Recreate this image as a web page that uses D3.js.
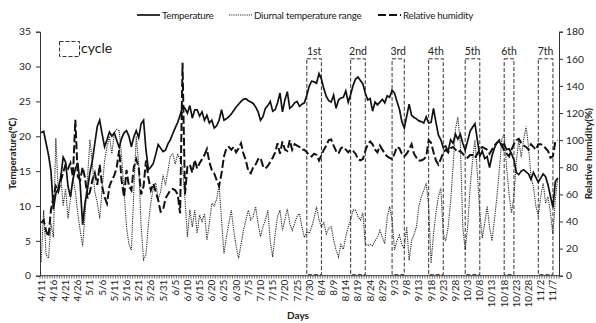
<!DOCTYPE html>
<html>
<head>
<meta charset="utf-8">
<script src="https://cdn.jsdelivr.net/npm/d3@7"></script>
<style>
  body { margin: 0; background: #fff; }
  text { font-family: Lato, "Noto Sans", sans-serif; fill: #222; }
</style>
</head>
<body>
<div id="chart"></div>
<script>
// Données : une valeur par jour, du 4/11 au 11/9
const temperature = [
  20.5, 20.7, 19.0, 17.3, 15.0, 9.5, 11.8, 12.5, 14.0, 17.0,
  16.3, 12.8, 11.3, 13.8, 15.3, 16.2, 13.0, 7.3, 10.5, 12.5,
  14.8, 16.5, 19.0, 21.4, 22.3, 20.3, 18.5, 19.5, 20.6, 20.0,
  20.5, 19.4, 18.4, 19.7, 20.5, 20.8, 20.0, 18.5, 19.9, 20.8,
  19.8, 21.8, 22.3, 18.0, 15.2, 15.6, 16.1, 17.4, 18.8, 18.3,
  17.8, 18.0, 18.9, 19.5, 20.4, 21.2, 22.0, 23.0, 24.3, 24.0,
  23.3, 24.4, 22.6, 23.8, 23.8, 22.9, 23.5, 22.3, 23.0, 21.9,
  22.3, 21.2, 21.5, 22.3, 23.8, 22.3, 22.5, 22.8, 23.2, 23.7,
  24.2, 24.6, 25.0, 25.3, 25.4, 25.1, 24.9, 24.7, 24.2, 23.5,
  22.3, 22.8, 24.0, 24.4, 25.0, 23.6, 23.8, 24.8, 26.2, 23.5,
  25.2, 26.4, 24.0, 24.3, 24.8, 25.0, 24.3, 24.6, 24.8, 25.9,
  27.2, 27.9, 27.8, 27.6, 29.0, 28.2, 26.8, 25.7, 25.1, 24.9,
  25.9, 24.0, 25.2, 25.5, 25.6, 26.5, 24.9, 26.0, 27.3, 28.2,
  28.5, 28.0, 27.5, 26.2, 25.2, 25.4, 23.6, 24.9, 24.5, 24.9,
  25.3, 24.8, 25.8, 25.6, 26.6, 26.2, 25.0, 23.9, 22.1, 21.2,
  22.9, 24.6, 23.0, 22.7, 22.5, 22.2, 22.1, 21.9, 22.8, 21.9,
  22.0, 24.0, 22.0, 20.2, 19.5, 18.4, 18.6, 17.8, 19.5, 19.0,
  20.3, 19.6, 20.3, 19.0, 18.0, 19.3, 20.7, 21.3, 21.8, 19.5,
  17.1, 17.9, 16.8, 17.1, 15.5, 17.2, 18.3, 19.1, 19.3, 18.6,
  18.9, 18.1, 18.2, 17.5, 16.6, 14.8, 14.5, 15.0, 15.2, 14.9,
  14.6, 13.8, 14.8, 14.1, 13.4, 14.0, 14.6, 14.2, 13.0, 11.4,
  9.8, 13.5, 14.0
];

const diurnalRange = [
  2.0, 9.4, 3.0, 2.5, 7.5, 5.5, 19.7, 12.0, 14.5, 10.0,
  12.5, 8.2, 11.0, 14.0, 12.0, 9.0, 6.5, 4.2, 9.0, 14.0,
  19.5, 16.0, 12.0, 10.5, 8.2, 12.5, 16.5, 18.5, 20.0, 17.5,
  20.5, 21.0, 20.8, 17.0, 12.0, 7.0, 4.5, 3.7, 12.0, 20.0,
  16.0, 7.0, 2.3, 3.0, 7.5, 10.5, 12.5, 13.3, 11.0, 12.0,
  14.5, 13.0, 15.0, 17.2, 17.5, 16.0, 17.5, 16.5, 15.5, 11.0,
  5.6, 9.5, 7.0, 9.4, 6.1, 8.7, 7.8, 8.9, 5.1, 7.5,
  10.4, 10.0, 11.0, 13.0, 8.0, 3.2, 5.5, 7.5, 9.4, 6.5,
  4.2, 2.5, 4.5, 6.5, 8.0, 9.4, 8.0, 8.5, 9.9, 7.5,
  5.6, 7.0, 8.0, 9.4, 5.0, 2.7, 6.0, 8.5, 9.4, 6.5,
  8.0, 9.6, 7.5, 6.5, 7.5, 8.5, 8.9, 7.0, 5.5, 6.3,
  6.1, 7.0, 8.3, 9.9, 8.0, 7.0, 7.6, 6.0, 6.8, 7.0,
  5.1, 3.7, 2.7, 4.5, 3.8, 5.6, 7.0, 8.0, 9.4, 9.4,
  8.5, 8.0, 9.0, 4.7, 4.3, 4.5, 4.3, 5.0, 5.5, 6.5,
  5.5, 4.6, 8.4, 9.9, 8.0, 3.7, 5.0, 5.8, 4.5, 3.9,
  7.0, 2.2, 5.0, 5.9, 7.0, 10.0, 11.3, 12.2, 13.3, 10.0,
  1.8, 6.0, 9.0, 11.3, 12.6, 6.0, 5.0, 7.0, 10.5, 15.5,
  21.0, 22.8, 19.0, 7.0, 3.7, 7.0, 12.5, 16.5, 19.5, 14.6,
  9.0, 5.4, 7.5, 10.0, 7.0, 5.0, 8.0, 11.3, 15.1, 19.5,
  20.3, 15.6, 11.7, 9.0, 11.3, 16.5, 19.5, 17.0, 19.5, 21.4,
  18.5, 14.2, 12.8, 10.0, 8.6, 11.3, 13.3, 10.4, 11.3, 9.0,
  6.0, 11.0, 14.0
];

const humidity = [
  39, 41, 33, 28.8, 48.5, 58, 66, 62, 70, 76,
  82, 79, 83, 73, 115, 73, 70.6, 80, 72, 57,
  62, 70.6, 75.7, 67, 82, 66, 58, 53.4, 66, 70.6,
  74, 80, 92.7, 70, 58, 78, 66, 63, 80, 86,
  80, 60, 66, 85, 72, 63, 68, 62, 55.8, 47.2,
  48.5, 57, 60, 63.2, 64, 63, 60, 46, 157, 60,
  80.4, 82, 76, 85.4, 79, 83, 86, 89, 93.4, 84,
  78, 75.5, 70.6, 66, 75.5, 88, 94, 95, 93, 95,
  91, 94, 97.7, 90, 85, 77, 75.5, 80, 82, 86,
  87, 81, 79, 81, 84, 87, 91, 97.7, 90, 99,
  93, 92, 100, 93, 97, 96, 95, 93, 93, 91,
  89, 88, 90, 89, 85, 89, 93, 96, 100, 100.5,
  96, 92, 90, 94, 95, 93, 91, 93, 92, 90,
  86, 85, 86, 92, 97, 99, 97, 93, 91, 96,
  93, 90, 88, 87, 86, 90, 95, 94, 90, 88,
  90, 93, 97, 90, 87, 85, 85, 86, 88, 100,
  98, 91, 85, 82, 86, 91, 93, 91, 94, 95,
  93, 91, 92, 90, 88, 87, 89, 89, 87, 90,
  93, 95, 94, 93, 90, 93, 96, 98, 100, 97,
  92, 90, 88, 93, 97, 100, 101, 98, 96, 95,
  93, 97, 95, 93, 97, 97, 96, 94, 92, 87,
  88, 99, 100
];

const tickLabels = ["4/11", "4/16", "4/21", "4/26", "5/1", "5/6", "5/11", "5/16", "5/21", "5/26",
  "5/31", "6/5", "6/10", "6/15", "6/20", "6/25", "6/30", "7/5", "7/10", "7/15", "7/20", "7/25",
  "7/30", "8/4", "8/9", "8/14", "8/19", "8/24", "8/29", "9/3", "9/8", "9/13", "9/18", "9/23",
  "9/28", "10/3", "10/8", "10/13", "10/18", "10/23", "10/28", "11/2", "11/7"];

const tempTicks = [0, 5, 10, 15, 20, 25, 30, 35];
const humTicks = [0, 20, 40, 60, 80, 100, 120, 140, 160, 180];

// Cycles (boîtes pointillées), bornes en jours
const cycleLabels = ["1st", "2nd", "3rd", "4th", "5th", "6th", "7th"];
const cycleStart = ["7/29", "8/16", "9/2", "9/17", "10/2", "10/18", "11/1"];
const cycleEnd = ["8/4", "8/22", "9/7", "9/23", "10/8", "10/22", "11/7"];
const cycleTop = 160;

const width = 596, height = 323;
const mLeft = 40, mRight = 559, mTop = 31.7, mBottom = 275.7;

const fmt = d3.timeFormat("%-m/%-d");
const days = d3.timeDay.range(new Date(2015, 3, 11), new Date(2015, 10, 10)).map(fmt);

const svg = d3.select("#chart").append("svg")
  .attr("width", width)
  .attr("height", height);

const x = d3.scaleBand().domain(days).range([mLeft, mRight]).padding(0);
const xc = d => x(d) + x.bandwidth() / 2;
const yT = d3.scaleLinear().domain([0, 35]).range([mBottom, mTop]);
const yH = d3.scaleLinear().domain([0, 180]).range([mBottom, mTop]);

// Axe gauche
const axL = svg.append("g").attr("transform", `translate(${mLeft},0)`)
  .call(d3.axisLeft(yT).tickValues(tempTicks).tickSize(4).tickPadding(5));
// Axe droit
const axR = svg.append("g").attr("transform", `translate(${mRight},0)`)
  .call(d3.axisRight(yH).tickValues(humTicks).tickSize(4).tickPadding(3));
[axL, axR].forEach(g => {
  g.select(".domain").attr("stroke", "#333");
  g.selectAll(".tick line").attr("stroke", "#333");
  g.selectAll(".tick text").attr("font-size", 10.3).attr("fill", "#333");
});

// Axe des x : un tiret par jour, une étiquette tous les 5 jours
const axB = svg.append("g");
axB.append("line")
  .attr("x1", mLeft).attr("x2", mRight)
  .attr("y1", mBottom).attr("y2", mBottom)
  .attr("stroke", "#333");
axB.selectAll(".dtick")
  .data(days.concat(["end"]))
  .enter()
  .append("line")
  .attr("x1", d => d === "end" ? mRight : x(d))
  .attr("x2", d => d === "end" ? mRight : x(d))
  .attr("y1", mBottom).attr("y2", mBottom + 3)
  .attr("stroke", "#444")
  .attr("stroke-width", 0.7);
axB.selectAll(".xlab")
  .data(tickLabels)
  .enter()
  .append("text")
  .attr("transform", d => `translate(${xc(d) + 3.5},${mBottom + 4}) rotate(-90)`)
  .attr("text-anchor", "end")
  .attr("font-size", 10)
  .attr("fill", "#333")
  .text(d => d);

// Titres des axes
svg.append("text")
  .attr("transform", `translate(16,${(mTop + mBottom) / 2}) rotate(-90)`)
  .attr("text-anchor", "middle")
  .attr("font-size", 10)
  .attr("font-weight", "bold")
  .text("Temperature(℃)");
svg.append("text")
  .attr("transform", `translate(592,${(mTop + mBottom) / 2}) rotate(-90)`)
  .attr("text-anchor", "middle")
  .attr("font-size", 10)
  .attr("font-weight", "bold")
  .text("Relative humidity(%)");
svg.append("text")
  .attr("x", 298).attr("y", 319)
  .attr("text-anchor", "middle")
  .attr("font-size", 10)
  .attr("font-weight", "bold")
  .text("Days");

// Boîtes des cycles
const cycles = svg.append("g");
cycleLabels.forEach((lab, i) => {
  const x0 = xc(cycleStart[i]);
  const x1 = xc(cycleEnd[i]);
  cycles.append("rect")
    .attr("x", x0).attr("y", yH(cycleTop))
    .attr("width", x1 - x0).attr("height", yH(0) - yH(cycleTop) - 1)
    .attr("fill", "none")
    .attr("stroke", "#333")
    .attr("stroke-width", 1)
    .attr("stroke-dasharray", "4,2");
  cycles.append("text")
    .attr("x", (x0 + x1) / 2).attr("y", yH(cycleTop) - 4)
    .attr("text-anchor", "middle")
    .attr("font-size", 10.5)
    .attr("fill", "#333")
    .text(lab);
});

// Séries
const lineT = d3.line().x((d, i) => xc(days[i])).y(d => yT(d));
const lineH = d3.line().x((d, i) => xc(days[i])).y(d => yH(d));

svg.append("path")
  .attr("d", lineT(diurnalRange))
  .attr("fill", "none")
  .attr("stroke", "#2a2a2a")
  .attr("stroke-width", 1.1)
  .attr("stroke-dasharray", "1.2,1");

svg.append("path")
  .attr("d", lineH(humidity))
  .attr("fill", "none")
  .attr("stroke", "#111")
  .attr("stroke-width", 2)
  .attr("stroke-dasharray", "8,3");

svg.append("path")
  .attr("d", lineT(temperature))
  .attr("fill", "none")
  .attr("stroke", "#111")
  .attr("stroke-width", 1.7);

// Légende
const legend = svg.append("g");
const legItems = [
  { label: "Temperature", x: 137, dash: null, w: 1.7, c: "#111" },
  { label: "Diurnal temperature range", x: 229, dash: "1.2,1", w: 1.1, c: "#2a2a2a" },
  { label: "Relative humidity", x: 378, dash: "8,3", w: 2, c: "#111" }
];
legItems.forEach(it => {
  legend.append("line")
    .attr("x1", it.x).attr("x2", it.x + 23)
    .attr("y1", 15).attr("y2", 15)
    .attr("stroke", it.c)
    .attr("stroke-width", it.w)
    .attr("stroke-dasharray", it.dash);
  legend.append("text")
    .attr("x", it.x + 25).attr("y", 18.5)
    .attr("font-size", 9.8)
    .attr("letter-spacing", -0.25)
    .text(it.label);
});

// Légende "cycle"
svg.append("rect")
  .attr("x", 59.5).attr("y", 41.5)
  .attr("width", 20).attr("height", 15)
  .attr("fill", "none")
  .attr("stroke", "#333")
  .attr("stroke-dasharray", "4,2");
svg.append("text")
  .attr("x", 81).attr("y", 52.5)
  .attr("font-size", 14)
  .text("cycle");
</script>
</body>
</html>
